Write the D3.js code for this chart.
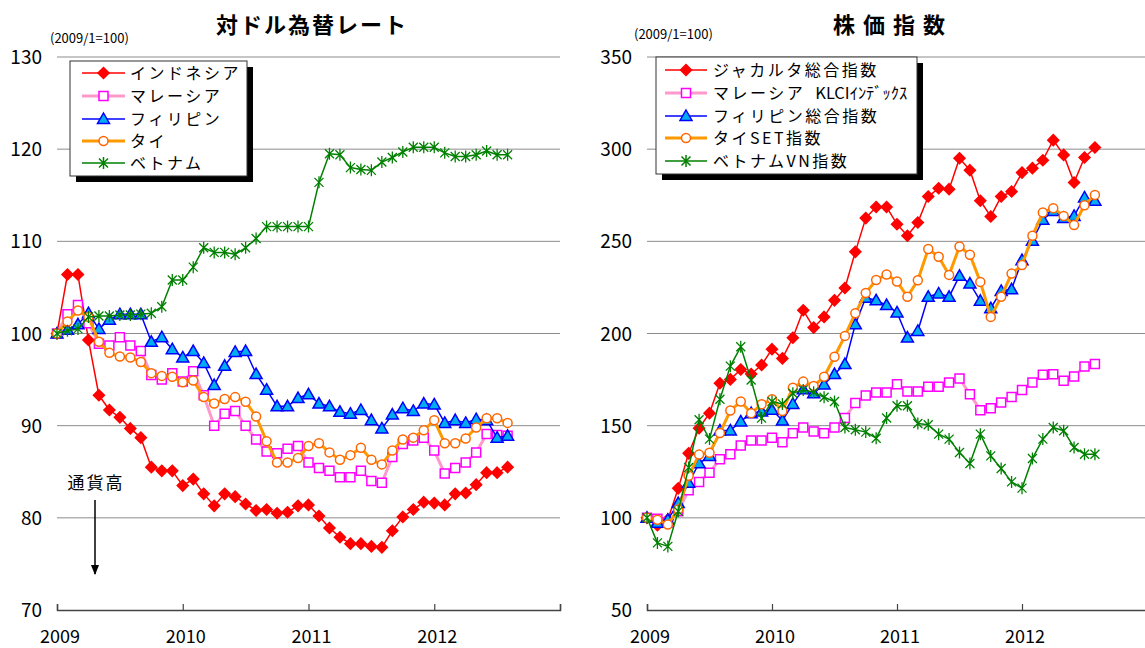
<!DOCTYPE html>
<html>
<head>
<meta charset="utf-8">
<script src="https://cdn.jsdelivr.net/npm/d3@7"></script>
<style>
body { margin: 0; background: #fff; }
text { font-family: "Noto Sans CJK JP", "Noto Sans", sans-serif; fill: #000; }
</style>
</head>
<body>
<svg width="1145" height="648"></svg>
<script>
/**Data**/
// monthly, 2009/1 .. 2012/8 (index 0..43), 2009/1 = 100
var yearLabels = ["2009", "2010", "2011", "2012"];

var fxNames = ["インドネシア", "マレーシア", "フィリピン", "タイ", "ベトナム"];
var fxIndonesia = [100,106.4,106.4,99.3,93.3,91.7,90.9,89.7,88.7,85.5,85.1,85.1,83.5,84.2,82.6,81.3,82.6,82.3,81.5,80.8,80.9,80.5,80.6,81.3,81.4,80.2,78.9,77.9,77.2,77.2,76.9,76.8,78.6,80.1,80.9,81.7,81.6,81.4,82.6,82.7,83.6,84.9,84.9,85.5];
var fxMalaysia = [100,102.1,103.1,101.1,98.9,98.7,99.6,98.7,98.1,95.5,95.0,95.7,94.8,95.9,93.3,90.0,91.3,91.6,90.0,88.5,87.2,87.0,87.5,87.8,86.0,85.4,85.1,84.4,84.4,85.1,84.0,83.8,86.6,88.0,88.4,88.7,87.3,84.8,85.4,86.0,87.1,89.1,89.0,88.9];
var fxPhilippines = [100,100.4,101.0,102.2,100.5,101.5,102.1,102.1,102.1,99.1,99.6,98.3,97.4,98.1,96.8,94.4,96.5,98.0,98.1,95.6,93.9,92.1,92.1,93.0,93.4,92.4,92.1,91.5,91.3,91.7,90.6,89.7,91.2,91.9,91.6,92.4,92.3,90.3,90.6,90.3,90.7,90.6,88.7,88.9];
var fxThai = [100,101.3,102.5,101.8,99.1,97.9,97.5,97.4,96.9,95.7,95.4,95.3,94.7,94.9,93.1,92.4,92.9,93.1,92.6,91.0,88.3,86.0,86.0,86.5,87.8,88.1,87.1,86.3,86.8,87.6,86.3,85.8,87.3,88.5,88.7,89.5,90.6,88.1,88.1,88.6,89.8,90.8,90.8,90.3];
var fxVietnam = [100,100.3,100.5,101.8,101.9,101.9,102.0,102.0,102.1,102.2,102.9,105.8,105.8,107.2,109.3,108.8,108.8,108.6,109.3,110.3,111.6,111.6,111.6,111.6,111.6,116.4,119.5,119.4,118.0,117.8,117.7,118.6,119.1,119.7,120.2,120.2,120.2,119.6,119.2,119.2,119.4,119.8,119.4,119.4];
var fxTicks = [70, 80, 90, 100, 110, 120, 130];

// each legend name: [full-width part, half-width part]
var stNames = [["ジャカルタ総合指数", ""], ["マレーシア ", "KLCIｲﾝﾃﾞｯｸｽ"], ["フィリピン総合指数", ""], ["タイSET指数", ""], ["ベトナムVN指数", ""]];
var stJakarta = [100,96,99,116,135,148.6,156.8,173,175.1,180.5,178,182.9,191.5,186.5,197.7,212.6,203.2,209,218,224.7,244.3,262.6,268.6,268.6,259.3,253,260.2,274.3,278.8,278.3,295.1,288.6,272,263.5,274.3,277,287.3,289.7,294,304.9,296.9,281.9,295.5,300.9];
var stMalaysia = [100,99.5,97.5,103.6,115,119.5,124.5,131.8,134.5,139.3,142,142,143.5,141,145.9,149,146.8,145.9,149,154.1,162.3,166.3,168,168,172.5,168.5,168.5,171.1,171.1,173.4,175.6,167.1,158.4,159.5,162.6,165.6,169.4,173.4,177.6,177.9,174.3,176.7,182.1,183.4];
var stPhilippines = [100,97.3,99,108,119,129.6,133.6,147.4,147.4,152.3,156.8,157.7,158.6,152.8,161.8,169.7,167.6,172.4,178,183.4,205,219.4,218,215.4,211.4,197.8,201.4,219.9,221.7,219.9,231.3,227.1,217.7,213.7,223.1,224,239.8,250.3,261.7,266.5,262.6,263.8,273.8,272];
var stThai = [100,99,96.4,104.5,122.8,134.3,135.3,146,158.2,163.1,156.8,161.6,164.3,158,170.6,173.9,171.5,176.6,187.4,198.7,211,222,229,232,228.2,219.9,228.9,245.8,241.6,231.8,247.2,242.7,228,209,219.9,232.5,237.1,253,265.6,268,263.8,258.8,269.6,275.2];
var stVietnam = [100,86.4,84.5,103.6,127.3,153.2,142.7,164.3,182.3,192.8,174.8,154.1,163.1,161.8,167.6,169.4,168.1,165.4,163.1,149,147.8,146.5,143.2,154.2,160.8,160.8,151.2,150.5,145.4,142.7,135.4,129.5,145.4,133.6,126.8,119.5,116.1,132.2,142.7,149,147.2,138.2,134.5,134.5];
var stTicks = [50, 100, 150, 200, 250, 300, 350];

// line / marker style per country, same order in both charts
var styles = [
	{line: "#FF0000", width: 1.5, marker: "diamond", fill: "#FF0000", stroke: "#FF0000"},
	{line: "#FF99CC", width: 3,   marker: "square",  fill: "#FFFFFF", stroke: "#FF00FF"},
	{line: "#0000FF", width: 1.5, marker: "triangle", fill: "#00AEEF", stroke: "#0000FF"},
	{line: "#FF9900", width: 3,   marker: "circle",  fill: "#FFFFFF", stroke: "#FF6600"},
	{line: "#008000", width: 1.5, marker: "star",    fill: "none",    stroke: "#008000"}
];

var svg = d3.select("svg");

drawChart({
	title: "対ドル為替レート", titleX: 312, titleSpacing: 2,
	left: 57, right: 560, top: 57, bottom: 610,
	domain: [70, 130], ticks: fxTicks, baseX: 50, baseY: 43,
	names: fxNames.map(function(n) { return [n, ""]; }),
	values: [fxIndonesia, fxMalaysia, fxPhilippines, fxThai, fxVietnam],
	legend: {x: 70, y: 61, w: 177, h: 115, rowY: [73, 96, 119, 141, 163], lx0: 82, lx1: 125, tx: 130}
});

drawChart({
	title: "株価指数", titleX: 893, titleSpacing: 8,
	left: 647, right: 1147, top: 57, bottom: 610,
	domain: [50, 350], ticks: stTicks, baseX: 634, baseY: 39,
	names: stNames,
	values: [stJakarta, stMalaysia, stPhilippines, stThai, stVietnam],
	legend: {x: 656, y: 57, w: 261, h: 117, rowY: [70, 93, 116, 138, 161], lx0: 665, lx1: 707, tx: 713}
});

// "通貨高" note with downward arrow (left chart)
svg.append("text").attr("x", 96).attr("y", 489).attr("text-anchor", "middle")
	.attr("font-size", 17).attr("letter-spacing", 2).text("通貨高");
svg.append("defs").append("marker")
	.attr("id", "arrow").attr("viewBox", "0 0 10 10").attr("refX", 9).attr("refY", 5)
	.attr("markerWidth", 7).attr("markerHeight", 7).attr("orient", "auto")
	.append("path").attr("d", "M0,1 L10,5 L0,9 Z").attr("fill", "#000");
svg.append("line").attr("x1", 95).attr("x2", 95).attr("y1", 500).attr("y2", 574)
	.attr("stroke", "#000").attr("stroke-width", 1.5).attr("marker-end", "url(#arrow)");

/**functions**/
function drawChart(cfg) {
	var g = svg.append("g");
	var x = d3.scaleLinear().domain([0, 48]).range([cfg.left, cfg.right]);
	var y = d3.scaleLinear().domain(cfg.domain).range([cfg.bottom, cfg.top]);

	//title and base note
	g.append("text").attr("x", cfg.titleX).attr("y", 33).attr("text-anchor", "middle")
		.attr("font-size", 22).attr("font-weight", "bold").attr("letter-spacing", cfg.titleSpacing)
		.text(cfg.title);
	g.append("text").attr("x", cfg.baseX).attr("y", cfg.baseY)
		.attr("font-size", 13).text("(2009/1=100)");

	//horizontal gridlines (the lowest tick is the axis itself)
	g.selectAll(".grid").data(cfg.ticks.slice(1)).enter().append("line")
		.attr("x1", cfg.left).attr("x2", cfg.right)
		.attr("y1", function(d) { return y(d); }).attr("y2", function(d) { return y(d); })
		.attr("stroke", "#8C8C8C").attr("stroke-width", 1);

	//y tick labels
	g.selectAll(".ylab").data(cfg.ticks).enter().append("text")
		.attr("x", cfg.left - 15).attr("y", function(d) { return y(d) + 7; })
		.attr("text-anchor", "end").attr("font-size", 19)
		.text(function(d) { return d; });

	//x axis: baseline with yearly ticks pointing up
	var xAxis = d3.axisTop(x).tickValues([0, 12, 24, 36, 48]).tickSize(6).tickFormat("");
	var ax = g.append("g").attr("transform", "translate(0," + cfg.bottom + ")").call(xAxis);
	ax.select(".domain").attr("stroke", "#444").attr("stroke-width", 1.5);
	ax.selectAll(".tick line").attr("stroke", "#444").attr("stroke-width", 1.2);
	g.selectAll(".xlab").data(yearLabels).enter().append("text")
		.attr("x", function(d, i) { return x(i * 12) + 3; }).attr("y", 643)
		.attr("text-anchor", "middle").attr("font-size", 18)
		.text(function(d) { return d; });

	//series
	var line = d3.line().x(function(d, i) { return x(i); }).y(function(d) { return y(d); });
	cfg.values.forEach(function(vals, k) {
		var s = styles[k];
		g.append("path").datum(vals).attr("d", line)
			.attr("fill", "none").attr("stroke", s.line).attr("stroke-width", s.width)
			.attr("stroke-linejoin", "round");
		g.selectAll(".m" + k).data(vals).enter().append("path")
			.attr("class", "m" + k)
			.attr("transform", function(d, i) { return "translate(" + x(i) + "," + y(d) + ")"; })
			.attr("d", markerPath(s.marker))
			.attr("fill", s.fill).attr("stroke", s.stroke).attr("stroke-width", s.marker == "star" ? 1.3 : 1.5);
	});

	//legend with black drop shadow
	var L = cfg.legend;
	g.append("rect").attr("x", L.x + 6).attr("y", L.y + 6).attr("width", L.w).attr("height", L.h).attr("fill", "#000");
	g.append("rect").attr("x", L.x).attr("y", L.y).attr("width", L.w).attr("height", L.h)
		.attr("fill", "#fff").attr("stroke", "#333").attr("stroke-width", 1);
	cfg.names.forEach(function(name, k) {
		var s = styles[k];
		var ry = L.rowY[k];
		g.append("line").attr("x1", L.lx0).attr("x2", L.lx1).attr("y1", ry).attr("y2", ry)
			.attr("stroke", s.line).attr("stroke-width", s.width);
		g.append("path").attr("transform", "translate(" + ((L.lx0 + L.lx1) / 2) + "," + ry + ")")
			.attr("d", markerPath(s.marker))
			.attr("fill", s.fill).attr("stroke", s.stroke).attr("stroke-width", 1.5);
		var t = g.append("text").attr("x", L.tx).attr("y", ry + 6).attr("font-size", 16);
		t.append("tspan").attr("letter-spacing", 2.5).text(name[0]);
		if (name[1]) {
			//half-width part, squeezed so it fits the box like the original
			t.append("tspan").attr("dx", 4).attr("letter-spacing", 0)
				.attr("textLength", 92).attr("lengthAdjust", "spacingAndGlyphs").text(name[1]);
		}
	});
}

//marker shapes, centred on 0,0
function markerPath(type) {
	if (type == "diamond") return "M0,-5.5L5.5,0L0,5.5L-5.5,0Z";
	if (type == "square") return "M-4.5,-4.5H4.5V4.5H-4.5Z";
	if (type == "triangle") return "M0,-6L6,4.5H-6Z";
	if (type == "circle") return "M4.5,0A4.5,4.5 0 1,1 -4.5,0A4.5,4.5 0 1,1 4.5,0Z";
	return "M-4.5,-4.5L4.5,4.5M-4.5,4.5L4.5,-4.5M0,-6V6";
}
</script>
</body>
</html>
